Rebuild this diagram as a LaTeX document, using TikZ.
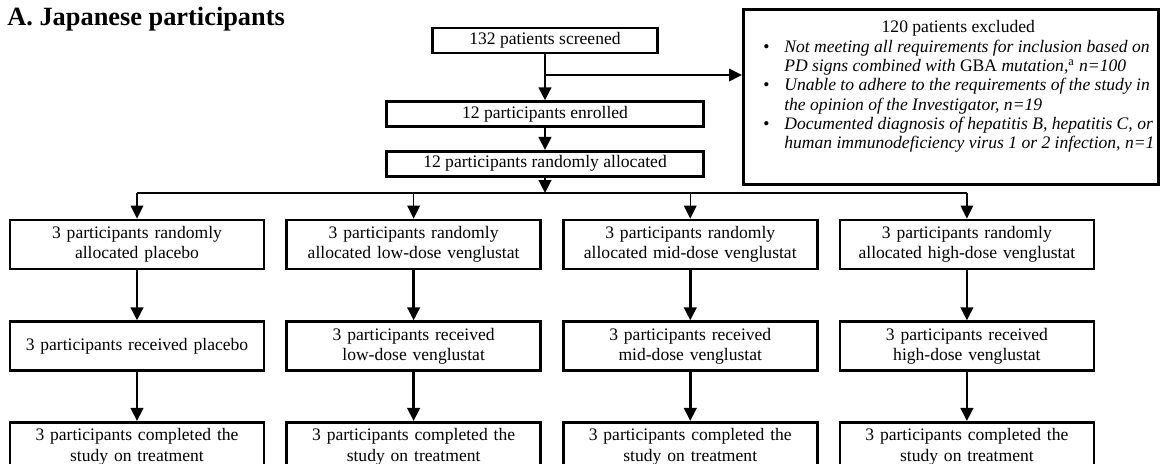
\documentclass[tikz,border=0pt]{standalone}
\usepackage{fontspec}
\setmainfont{Liberation Serif}
\usepackage{tikz}
\usetikzlibrary{positioning,arrows.meta}

\newcommand{\exline}[1]{\makebox[8.1cm][l]{#1}}
\newcommand{\exbullet}{\hspace*{0.3cm}\makebox[0.42cm][l]{\textbullet}}
\newcommand{\exindent}{\hspace*{0.72cm}}

\begin{document}
\begin{tikzpicture}[
    node distance=0.4cm,
    stage/.style={rectangle, draw, line width=1.5pt, minimum height=0.98cm, text width=5.08cm,
                  inner xsep=0pt, align=center, font=\fontsize{10}{11.5}\selectfont},
    topbox/.style={rectangle, draw, line width=1.5pt, minimum height=0.5cm, inner sep=0pt,
                   font=\fontsize{10}{11.5}\selectfont},
    arrow/.style={-{Triangle[length=0.26cm, width=0.25cm]}, line width=1.5pt},
    thinarrow/.style={-{Triangle[length=0.26cm, width=0.25cm]}, line width=0.8pt},
    link/.style={line width=0.8pt}
]
    \path[use as bounding box, clip] (0,0) rectangle (23.28,-9.26);

    \node[anchor=base west, inner sep=0pt, font=\fontsize{15}{18}\selectfont\bfseries] (title) at (0.14,-0.5) {A. Japanese participants};

    \node[topbox, minimum width=4.5cm] (screened) at (10.9,-0.81) {132 patients screened};
    \node[topbox, minimum width=6.34cm, below=0.92cm of screened] (enrolled) {12 participants enrolled};
    \node[topbox, minimum width=6.34cm, below=0.44cm of enrolled] (allocated) {12 participants randomly allocated};

    \node[draw, line width=1.5pt, anchor=north west, minimum width=8.3cm, minimum height=3.5cm,
          inner xsep=0.1cm, align=left, font=\fontsize{10}{11}\selectfont]
          (excluded) at (14.84,-0.16) {%
        \exline{\hspace*{0.3cm}\makebox[7.8cm]{120 patients excluded}}\\
        \exline{\exbullet\textit{Not meeting all requirements for inclusion based on}}\\
        \exline{\exindent\textit{PD signs combined with} GBA \textit{mutation,}\textsuperscript{a} \textit{n=100}}\\
        \exline{\exbullet\textit{Unable to adhere to the requirements of the study in}}\\
        \exline{\exindent\textit{the opinion of the Investigator, n=19}}\\
        \exline{\exbullet\textit{Documented diagnosis of hepatitis B, hepatitis C, or}}\\
        \exline{\exindent\textit{human immunodeficiency virus 1 or 2 infection, n=1}}\\[0.1cm]\mbox{}};

    \coordinate (branch) at (10.9,-1.5);
    \coordinate (split) at (10.9,-3.86);

    \node[stage] (rand1) at (2.74,-4.89) {3 participants randomly\\allocated placebo};
    \node[stage, right=of rand1] (rand2) {3 participants randomly\\allocated low-dose venglustat};
    \node[stage, right=of rand2] (rand3) {3 participants randomly\\allocated mid-dose venglustat};
    \node[stage, right=of rand3] (rand4) {3 participants randomly\\allocated high-dose venglustat};

    \node[stage, below=1cm of rand1] (recv1) {3 participants received placebo};
    \node[stage, below=1cm of rand2] (recv2) {3 participants received\\low-dose venglustat};
    \node[stage, below=1cm of rand3] (recv3) {3 participants received\\mid-dose venglustat};
    \node[stage, below=1cm of rand4] (recv4) {3 participants received\\high-dose venglustat};

    \foreach \i in {1,...,4}
        \node[stage, below=0.98cm of recv\i] (done\i) {3 participants completed the\\study on treatment};

    \draw[arrow] (screened) -- (enrolled);
    \draw[thinarrow, line width=1.1pt] (branch) -- (branch -| excluded.west);
    \draw[arrow] (enrolled) -- (allocated);
    \draw[arrow] (allocated) -- (split);
    \draw[link] (split -| rand1) -- (split -| rand4);
    \foreach \i in {1,...,4} {
        \draw[thinarrow] (split -| rand\i) -- (rand\i);
        \draw[arrow] (rand\i) -- (recv\i);
        \draw[arrow] (recv\i) -- (done\i);
    }
\end{tikzpicture}
\end{document}
